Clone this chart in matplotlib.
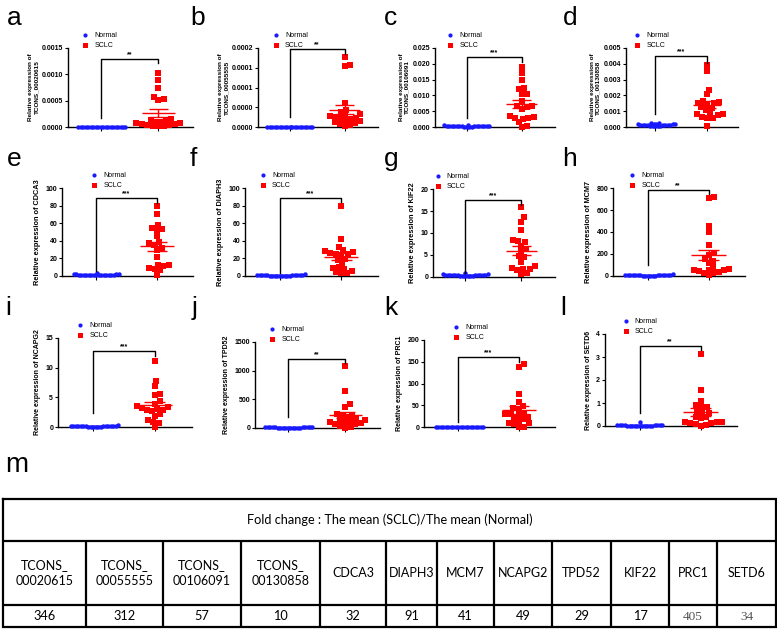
import numpy as np
import matplotlib
matplotlib.use('Agg')
import matplotlib.pyplot as plt
from matplotlib.lines import Line2D
from matplotlib import font_manager as fm

# ---------------- data ----------------
panel_letters = list('abcdefghijkl')
genes = ['TCONS_00020615', 'TCONS_00055555', 'TCONS_00106091', 'TCONS_00130858',
         'CDCA3', 'DIAPH3', 'KIF22', 'MCM7', 'NCAPG2', 'TPD52', 'PRC1', 'SETD6']
significance = ['**', '**', '***', '***', '***', '***', '***', '**', '***', '**', '***', '**']

sclc_a = [0.00102, 0.00090, 0.00074, 0.00057, 0.00054, 0.00052, 0.00016, 0.00014, 0.00013, 0.00010,
          0.00009, 0.00008, 0.00007, 0.00006, 0.00005, 0.00004, 0.00003, 0.00002, 0.00002, 0.00001]
sclc_b = [0.000178, 0.000156, 0.000154, 0.000060, 0.000043, 0.000038, 0.000032, 0.000030, 0.000028, 0.000026,
          0.000024, 0.000022, 0.000020, 0.000016, 0.000014, 0.000012, 0.000010, 0.000008, 0.000006, 0.000003]
sclc_c = [0.0190, 0.0171, 0.0148, 0.0125, 0.0119, 0.0106, 0.0104, 0.0082, 0.0067, 0.0065,
          0.0063, 0.0057, 0.0034, 0.0032, 0.0030, 0.0028, 0.0025, 0.0015, 0.0004, 0.0001]
sclc_d = [0.00395, 0.00353, 0.00237, 0.00206, 0.00167, 0.00160, 0.00155, 0.00150, 0.00143, 0.00128,
          0.00118, 0.00110, 0.00088, 0.00085, 0.00080, 0.00074, 0.00066, 0.00060, 0.00058, 0.00006]
sclc_e = [79.6, 70.8, 58.5, 54.6, 53.5, 52.7, 46.0, 37.0, 38.5, 35.4,
          30.0, 32.3, 22.0, 13.0, 12.3, 11.2, 9.2, 8.5, 6.5, 1.5]
sclc_f = [79.0, 41.6, 33.2, 29.4, 28.2, 27.5, 25.6, 25.0, 24.8, 23.7,
          19.8, 18.0, 14.9, 10.3, 9.5, 8.4, 5.3, 4.6, 3.4, 3.0]
sclc_g = [15.85, 13.6, 12.6, 10.6, 8.3, 8.1, 8.0, 7.1, 6.3, 5.8,
          4.7, 4.5, 3.5, 2.4, 2.0, 1.9, 1.8, 1.5, 0.9, 0.75]
sclc_h = [714, 705, 452, 397, 280, 206, 191, 151, 138, 114,
          83, 68, 58, 52, 52, 50, 37, 31, 30, 6]
sclc_i = [11.07, 7.8, 6.95, 5.6, 5.4, 4.3, 3.9, 3.5, 3.3, 3.2,
          3.0, 2.9, 2.8, 2.7, 2.2, 1.9, 1.1, 0.9, 0.6, 0.05]
sclc_j = [1084, 650, 416, 369, 252, 234, 223, 193, 164, 147,
          135, 123, 105, 105, 88, 76, 64, 35, 18, 6]
sclc_k = [144, 139, 77, 57, 48, 44, 41, 33, 31, 30,
          28, 24, 20, 18, 14.5, 10, 8.4, 6.9, 1.0, 0.5]
sclc_l = [3.13, 1.57, 1.1, 0.91, 0.84, 0.81, 0.65, 0.58, 0.55, 0.41,
          0.38, 0.33, 0.19, 0.19, 0.16, 0.14, 0.12, 0.09, 0.03, 0.01]

norm_a = [0.000002, 0.000003, 0.000001, 0.000004, 0.000002, 0.000003, 0.000005, 0.000002, 0.000001, 0.000003,
          0.000004, 0.000002, 0.000003, 0.000001, 0.000002, 0.000004, 0.000003, 0.000002, 0.000001, 0.000003]
norm_b = [0.0000002, 0.0000003, 0.0000001, 0.0000004, 0.0000002, 0.0000003, 0.0000005, 0.0000002, 0.0000001, 0.0000003,
          0.0000004, 0.0000002, 0.0000003, 0.0000001, 0.0000002, 0.0000004, 0.0000003, 0.0000002, 0.0000001, 0.0000003]
norm_c = [0.0003, 0.0002, 0.0004, 0.0001, 0.0003, 0.0002, 0.0005, 0.0002, 0.0001, 0.0003,
          0.0004, 0.0002, 0.0003, 0.0001, 0.0002, 0.0006, 0.0003, 0.0002, 0.0001, 0.0003]
norm_d = [0.00022, 0.00012, 0.00008, 0.00015, 0.00010, 0.00018, 0.00028, 0.00009, 0.00012, 0.00020,
          0.00014, 0.00007, 0.00011, 0.00016, 0.00024, 0.00010, 0.00013, 0.00009, 0.00017, 0.00006]
norm_e = [1.5, 1.0, 2.0, 0.8, 1.2, 2.5, 1.8, 0.9, 1.1, 3.2, 1.4, 0.7, 1.6, 1.0, 1.3, 2.2, 0.9, 1.2, 0.6, 1.5]
norm_f = [0.5, 0.8, 0.3, 1.0, 0.6, 1.8, 0.4, 0.7, 0.5, 0.9, 0.3, 0.6, 1.2, 0.4, 0.5, 0.8, 0.2, 0.6, 0.7, 0.4]
norm_g = [0.45, 0.3, 0.55, 0.35, 0.6, 0.25, 0.4, 0.85, 0.3, 0.5, 0.35, 0.45, 0.2, 0.55, 0.3, 0.4, 0.5, 0.25, 0.35, 0.6]
norm_h = [5, 8, 3, 10, 6, 12, 4, 7, 5, 9, 3, 6, 15, 4, 5, 8, 2, 6, 7, 4]
norm_i = [0.1, 0.15, 0.05, 0.2, 0.12, 0.3, 0.08, 0.1, 0.18, 0.07, 0.13, 0.06, 0.22, 0.09, 0.11, 0.14, 0.05, 0.1, 0.16, 0.08]
norm_j = [8, 12, 5, 15, 9, 6, 18, 7, 10, 4, 11, 6, 13, 8, 5, 9, 14, 7, 6, 10]
norm_k = [0.3, 0.5, 0.2, 0.7, 0.4, 0.6, 0.25, 0.35, 0.45, 0.3, 0.8, 0.2, 0.4, 0.5, 0.3, 0.6, 0.15, 0.35, 0.45, 0.25]
norm_l = [0.02, 0.03, 0.01, 0.04, 0.02, 0.16, 0.03, 0.01, 0.02, 0.05, 0.02, 0.03, 0.01, 0.04, 0.02, 0.03, 0.01, 0.02, 0.03, 0.02]

yticks_a = [0, 0.0005, 0.0010, 0.0015]
yticklabels_a = ['0.0000', '0.0005', '0.0010', '0.0015']
yticks_b = [0, 0.00005, 0.0001, 0.00015, 0.0002]
yticklabels_b = ['0.0000', '0.0000', '0.0001', '0.0001', '0.0002']
yticks_c = [0, 0.005, 0.010, 0.015, 0.020, 0.025]
yticklabels_c = ['0.000', '0.005', '0.010', '0.015', '0.020', '0.025']
yticks_d = [0, 0.001, 0.002, 0.003, 0.004, 0.005]
yticklabels_d = ['0.000', '0.001', '0.002', '0.003', '0.004', '0.005']
yticks_e = [0, 20, 40, 60, 80, 100]
yticks_f = [0, 20, 40, 60, 80, 100]
yticks_g = [0, 5, 10, 15, 20]
yticks_h = [0, 200, 400, 600, 800]
yticks_i = [0, 5, 10, 15]
yticks_j = [0, 500, 1000, 1500]
yticks_k = [0, 50, 100, 150, 200]
yticks_l = [0, 1, 2, 3, 4]

# significance bracket heights: (top, left-leg bottom, right-leg bottom)
bracket_a = (0.0013, 0.00017, 0.00122)
bracket_b = (0.000198, 0.000026, 0.000184)
bracket_c = (0.022, 0.0027, 0.0206)
bracket_d = (0.00447, 0.0008, 0.00405)
bracket_e = (89, 6, 83)
bracket_f = (89, 3.4, 84)
bracket_g = (17.5, 0.9, 16.4)
bracket_h = (785, 98, 745)
bracket_i = (12.8, 2.3, 12.0)
bracket_j = (1207, 193, 1130)
bracket_k = (161.7, 12, 150)
bracket_l = (3.49, 0.55, 3.3)

table_genes = ['TCONS_\n00020615', 'TCONS_\n00055555', 'TCONS_\n00106091', 'TCONS_\n00130858',
               'CDCA3', 'DIAPH3', 'MCM7', 'NCAPG2', 'TPD52', 'KIF22', 'PRC1', 'SETD6']
fold_change = ['346', '312', '57', '10', '32', '91', '41', '49', '29', '17', '405', '34']
table_title = 'Fold change : The mean (SCLC)/The mean (Normal)'

# ---------------- setup ----------------
sclc_all = [sclc_a, sclc_b, sclc_c, sclc_d, sclc_e, sclc_f, sclc_g, sclc_h, sclc_i, sclc_j, sclc_k, sclc_l]
norm_all = [norm_a, norm_b, norm_c, norm_d, norm_e, norm_f, norm_g, norm_h, norm_i, norm_j, norm_k, norm_l]
yticks_all = [yticks_a, yticks_b, yticks_c, yticks_d, yticks_e, yticks_f, yticks_g, yticks_h,
              yticks_i, yticks_j, yticks_k, yticks_l]
ytl_all = [yticklabels_a, yticklabels_b, yticklabels_c, yticklabels_d] + [None] * 8
brackets = [bracket_a, bracket_b, bracket_c, bracket_d, bracket_e, bracket_f, bracket_g, bracket_h,
            bracket_i, bracket_j, bracket_k, bracket_l]

W, H = 777, 629
fig = plt.figure(figsize=(W / 100, H / 100), dpi=100)

SANS = 'Liberation Sans'
def has_font(name):
    try:
        fm.findfont(fm.FontProperties(family=name), fallback_to_default=False)
        return True
    except Exception:
        return False
NARROW = 'Liberation Sans Narrow' if has_font('Liberation Sans Narrow') else 'Lato'

BLUE = '#1a1aff'
RED = '#ff0000'

# axes boxes in pixels: left, top, right, bottom
boxes = [(68, 48, 193, 127), (258, 48, 378, 127), (435, 48, 555, 127), (626, 48, 738, 127),
         (62, 188, 193, 276), (245, 188, 378, 276), (433, 189, 555, 277), (613, 188, 745, 276),
         (58, 338, 192, 427), (255, 342, 380, 428), (424, 340, 555, 427), (605, 334, 737, 426)]
legend_x = [0.11, 0.12, 0.10, 0.07, 0.22, 0.11, 0.01, 0.12, 0.14, 0.11, 0.22, 0.13]
letter_pos = [(7, 25), (190, 25), (384, 25), (563, 25),
              (7, 166), (190, 166), (384, 166), (562, 166),
              (5, 315), (192, 315), (384, 315), (560, 315)]
XLIM = (0.43, 2.6)


def beeswarm(vals, ypx, xpx, d, maxw):
    """Place points (sorted by value) at the free x offset closest to centre.
    ypx: pixels per data unit on y; xpx: pixels per x unit; d: min distance (px)."""
    vals = np.asarray(vals, float)
    order = np.argsort(vals)
    placed = []  # (xpix, ypix)
    offs = np.zeros(len(vals))
    cands = [0.0]
    step = 0.5
    k = 1
    while k * step <= maxw * xpx:
        cands += [k * step, -k * step]
        k += 1
    for idx in order:
        yp = vals[idx] * ypx
        best, best_d = 0.0, -1
        for c in cands:
            md = min([np.hypot(c - px, yp - py) for px, py in placed] + [1e9])
            if md >= d:
                best = c
                break
            if md > best_d:
                best_d, best = md, c
        placed.append((best, yp))
        offs[idx] = best / xpx
    return offs


def mean_sem(ax, x, vals, color):
    v = np.asarray(vals, float)
    m = v.mean()
    s = v.std(ddof=1) / np.sqrt(len(v))
    ax.hlines(m, x - 0.28, x + 0.28, color=color, lw=1.0, zorder=4, clip_on=False)
    ax.vlines(x, m - s, m + s, color=color, lw=1.0, zorder=4, clip_on=False)
    ax.hlines([m - s, m + s], x - 0.17, x + 0.17, color=color, lw=1.0, zorder=4, clip_on=False)


for i in range(12):
    l, t, r, b = boxes[i]
    ax = fig.add_axes([l / W, 1 - b / H, (r - l) / W, (b - t) / H])
    yt = yticks_all[i]
    ymax = yt[-1]
    ax.set_xlim(*XLIM)
    ax.set_ylim(0, ymax)
    for sp in ['top', 'right']:
        ax.spines[sp].set_visible(False)
    for sp in ['left', 'bottom']:
        ax.spines[sp].set_linewidth(1.0)
    ax.set_yticks(yt)
    if ytl_all[i] is not None:
        ax.set_yticklabels(ytl_all[i])
    ax.set_xticks([1, 2])
    ax.set_xticklabels([])
    ax.tick_params(axis='y', length=2.5, width=0.8, pad=1, labelsize=5)
    ax.tick_params(axis='x', length=3, width=0.8)
    for lab in ax.get_yticklabels():
        lab.set_fontfamily(SANS)
        lab.set_fontweight('bold')

    ypx = (b - t) / ymax
    xpx = (r - l) / (XLIM[1] - XLIM[0])
    nv = norm_all[i]
    sv = sclc_all[i]
    ax.plot(1 + beeswarm(nv, ypx, xpx, 2.3, 0.42), nv, 'o', color=BLUE, ms=3.2, mew=0,
            clip_on=False, zorder=3)
    ax.plot(2 + beeswarm(sv, ypx, xpx, 5.2, 0.45), sv, 's', color=RED, ms=4.0, mew=0,
            clip_on=False, zorder=3)
    mean_sem(ax, 1, nv, BLUE)
    mean_sem(ax, 2, sv, RED)

    top, lb, rb = brackets[i]
    ax.plot([1, 1, 2, 2], [lb, top, top, rb], color='black', lw=1.0, clip_on=False, zorder=5)
    ax.text(1.5, top + 0.01 * ymax, significance[i], ha='center', va='bottom', fontsize=5,
            fontfamily=SANS, fontweight='bold')

    if i < 4:
        ax.set_ylabel('Relative expression of\n' + genes[i], fontsize=4.6, fontfamily=SANS,
                      fontweight='bold', labelpad=2, linespacing=1.2)
    else:
        ax.set_ylabel('Relative expression of ' + genes[i], fontsize=5.3 if i < 8 else 5.0,
                      fontfamily=SANS, fontweight='bold', labelpad=3)

    handles = [Line2D([], [], marker='o', color=BLUE, ls='', ms=3, mew=0),
               Line2D([], [], marker='s', color=RED, ls='', ms=3.6, mew=0)]
    ax.legend(handles, ['Normal', 'SCLC'], loc='lower left', bbox_to_anchor=(legend_x[i], 0.985),
              frameon=False, borderpad=0, borderaxespad=0, handlelength=1.0, handletextpad=0.8,
              labelspacing=0.45, prop={'family': SANS, 'size': 5})

    lx, ly = letter_pos[i]
    fig.text(lx / W, 1 - ly / H, panel_letters[i], fontsize=19, fontfamily=SANS,
             ha='left', va='baseline')

# ---------------- table ----------------
fig.text(5 / W, 1 - 472 / H, 'm', fontsize=20, fontfamily=SANS, ha='left', va='baseline')
tax = fig.add_axes([0, 0, 1, 1], zorder=-1)
tax.set_xlim(0, W)
tax.set_ylim(H, 0)
tax.axis('off')
col_edges = [3, 86, 163, 241, 320, 386, 437, 494, 552, 611, 669, 717, 776]
y_top, y_head, y_row, y_bot = 499, 541, 605, 627
lw = 1.6
tax.plot([col_edges[0], col_edges[-1], col_edges[-1], col_edges[0], col_edges[0]],
         [y_top, y_top, y_bot, y_bot, y_top], color='black', lw=lw, solid_joinstyle='miter')
tax.hlines([y_head, y_row], col_edges[0], col_edges[-1], color='black', lw=lw)
tax.vlines(col_edges[1:-1], y_head, y_bot, color='black', lw=lw)
tax.text((col_edges[0] + col_edges[-1]) / 2, (y_top + y_head) / 2, table_title,
         ha='center', va='center', fontsize=9.2, fontfamily=NARROW)
for k in range(12):
    xc = (col_edges[k] + col_edges[k + 1]) / 2
    tax.text(xc, (y_head + y_row) / 2, table_genes[k], ha='center', va='center',
             fontsize=9.0, fontfamily=NARROW, linespacing=1.35)
    if k < 10:
        tax.text(xc, (y_row + y_bot) / 2 + 0.5, fold_change[k], ha='center', va='center',
                 fontsize=9.2, fontfamily=NARROW)
    else:
        tax.text(xc, (y_row + y_bot) / 2 + 0.5, fold_change[k], ha='center', va='center',
                 fontsize=9.5, fontfamily='Liberation Serif', color='#555555')

fig.savefig('out.png', dpi=100)
